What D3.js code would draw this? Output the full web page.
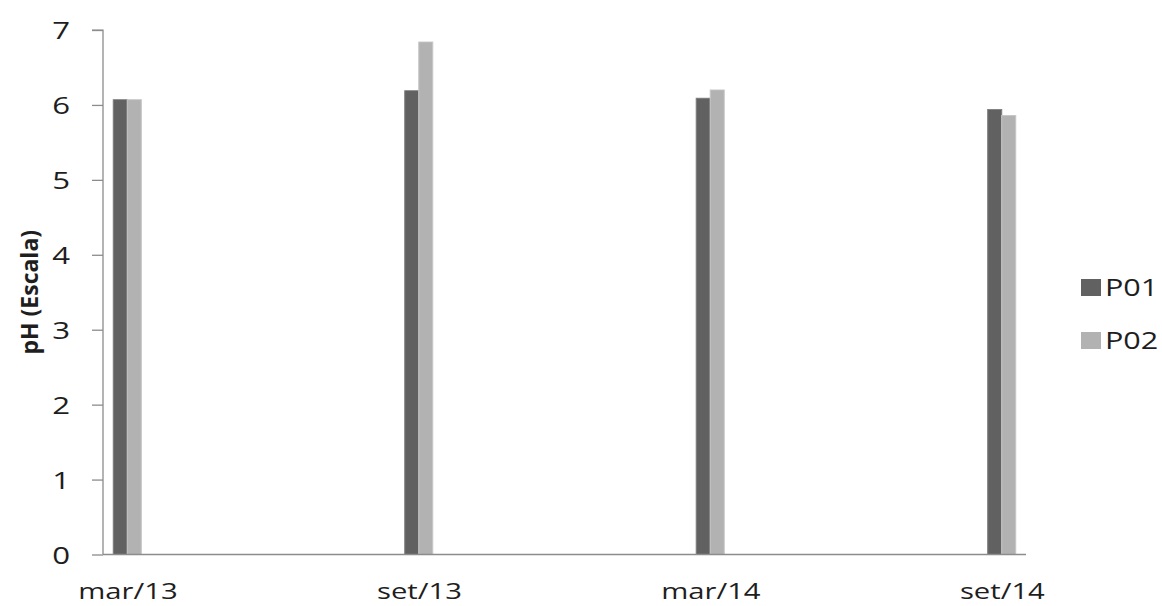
<!DOCTYPE html>
<html>
<head>
<meta charset="utf-8">
<script src="https://cdn.jsdelivr.net/npm/d3@7"></script>
<style>
  html, body { margin: 0; padding: 0; background: #fff; }
  svg { display: block; }
  text { font-family: "Open Sans", "Noto Sans", sans-serif; fill: #1e1e1e; }
</style>
</head>
<body>
<svg id="chart" width="1162" height="606"></svg>
<script>
// Sampling dates and pH readings for the two monitoring points
const categories = ["mar/13", "set/13", "mar/14", "set/14"];
const series = ["P01", "P02"];
const valuesP01 = [6.07, 6.19, 6.09, 5.94];
const valuesP02 = [6.07, 6.84, 6.20, 5.86];
const yTicks = [0, 1, 2, 3, 4, 5, 6, 7];
const colors = ["#616161", "#b2b2b2"];
const strokes = ["#7c7c7c", "#c6c6c6"];

const rows = categories.map((c, i) => ({ cat: c, vals: [valuesP01[i], valuesP02[i]] }));

const W = 1162, H = 606;
const sx = 1.3;                 // horizontal stretch of the plot drawing
const svg = d3.select("#chart");

// Stretched layer: everything is laid out in unstretched units and widened by sx
const g = svg.append("g").attr("transform", `scale(${sx},1)`);

const x0 = 103 / sx, x1 = 1026 / sx;
const y = d3.scaleLinear().domain([0, 7]).range([554.5, 30]);
const x = d3.scalePoint().domain(categories).range([x0, x1]).padding(1 / 12);
const half = 14 / sx;
const xs = d3.scaleBand().domain(series).range([-half, half]);

// Bars
const groups = g.selectAll("g.cat").data(rows).join("g")
  .attr("class", "cat")
  .attr("transform", d => `translate(${x(d.cat)},0)`);
groups.selectAll("rect").data(d => d.vals.map((v, k) => ({ v, k })))
  .join("rect")
  .attr("x", d => xs(series[d.k]))
  .attr("width", xs.bandwidth())
  .attr("y", d => y(d.v))
  .attr("height", d => y(0) - y(d.v))
  .attr("fill", d => colors[d.k])
  .attr("stroke", d => strokes[d.k])
  .attr("stroke-width", 0.8);

// Y axis
const yAxis = d3.axisLeft(y).tickValues(yTicks).tickSize(11 / sx).tickPadding(22 / sx)
  .tickFormat(d3.format("d"));
const ya = g.append("g").attr("transform", `translate(${x0},0)`).call(yAxis);
ya.select(".domain").attr("stroke", "#8c8c8c").attr("stroke-width", 1.3 / sx)
  .attr("d", `M${-11 / sx},${y(7)}H0V${y(0)}`);
ya.selectAll(".tick line").attr("stroke", "#8c8c8c").attr("stroke-width", 1.3);
ya.selectAll(".tick text").attr("font-size", 24).attr("fill", "#1e1e1e")
  .attr("dy", "0.36em").style("font-family", "'Open Sans', sans-serif");

// X axis
const xAxis = d3.axisBottom(x).tickSize(0).tickPadding(29);
const xa = g.append("g").attr("transform", `translate(0,${y(0)})`).call(xAxis);
xa.select(".domain").attr("stroke", "#8c8c8c").attr("stroke-width", 1.3)
  .attr("d", `M${x0},0H${x1}`);
xa.selectAll(".tick text").attr("font-size", 22.5).attr("fill", "#1e1e1e")
  .style("font-family", "'Open Sans', sans-serif");

// Legend
const legend = g.append("g");
series.forEach((s, i) => {
  const ly = 279 + i * 53;
  legend.append("rect").attr("x", 1081 / sx).attr("y", ly)
    .attr("width", 20 / sx).attr("height", 17).attr("fill", colors[i]);
  legend.append("text").attr("x", 1105 / sx).attr("y", ly + 17)
    .attr("font-size", 23.5).text(s);
});

// Y title (unstretched)
svg.append("text")
  .attr("transform", `translate(38,${(y(0) + y(7)) / 2}) rotate(-90)`)
  .attr("text-anchor", "middle")
  .attr("font-size", 23).attr("font-weight", "bold")
  .text("pH (Escala)");
</script>
</body>
</html>
